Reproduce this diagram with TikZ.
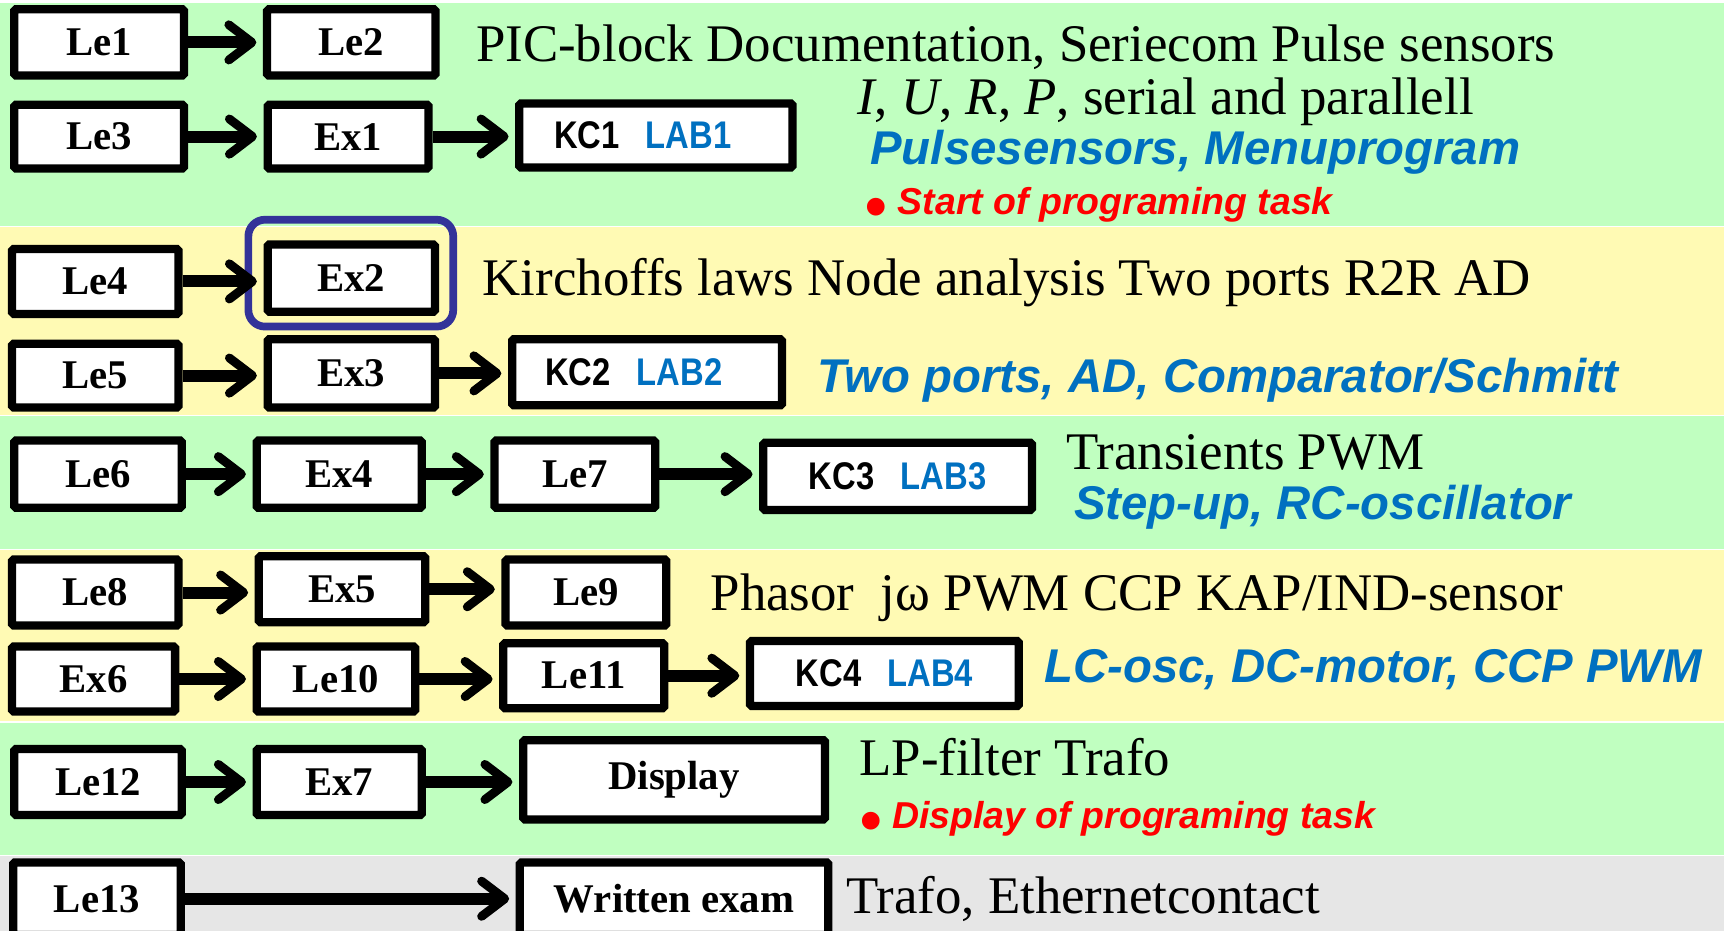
\documentclass[tikz,border=0pt]{standalone}
\usepackage{fontspec}
\usepackage{graphicx}
\setmainfont{Liberation Serif}
\setsansfont{Liberation Sans}
\usetikzlibrary{arrows.meta}
\definecolor{bandgreen}{RGB}{192,255,192}
\definecolor{bandyellow}{RGB}{255,250,180}
\definecolor{bandgray}{RGB}{230,230,230}
\definecolor{labblue}{RGB}{0,112,192}
\definecolor{ringblue}{RGB}{51,51,153}
\definecolor{taskred}{RGB}{255,0,0}
\begin{document}
\begin{tikzpicture}[x=1pt,y=-1pt,
  blk/.style={draw=black, line width=7.5pt, rounded corners=1.5pt, fill=white, inner sep=0pt,
    font=\bfseries\fontsize{37}{40}\selectfont},
  kc/.style={blk, font=\sffamily\bfseries\fontsize{35}{40}\selectfont},
  conn/.style={-{Straight Barb[length=21pt,width=32pt,round,line width=8pt]},
    shorten >=6pt, line width=11pt},
  serif/.style={anchor=base west, inner sep=0pt, font=\fontsize{48}{52}\selectfont},
  bluetxt/.style={anchor=base west, inner sep=0pt, text=labblue,
    font=\sffamily\bfseries\itshape\fontsize{43}{48}\selectfont},
  redtxt/.style={anchor=base west, inner sep=0pt, text=taskred,
    font=\sffamily\bfseries\itshape\fontsize{34}{38}\selectfont},
]
% "KCn LABn" label, condensed, with an optional shift to the left
\newcommand{\kclabel}[2]{\scalebox{0.85}[1]{KC#1\hspace{0.8em}\color{labblue}LAB#1}\kern#2pt\relax}
\newcommand{\bigdot}{{\upshape\fontsize{56}{56}\selectfont\raisebox{-12pt}{•}}}
\useasboundingbox (0,0) rectangle (1568,845);
\fill[white] (0,0) rectangle (1568,845);
% coloured bands
\fill[bandgreen]  (0,3)   rectangle (1565,205);
\fill[bandyellow] (0,206) rectangle (1565,377);
\fill[bandgreen]  (0,378) rectangle (1565,498);
\fill[bandyellow] (0,499) rectangle (1565,655);
\fill[bandgreen]  (0,656) rectangle (1565,776);
\fill[bandgray]   (0,777) rectangle (1565,845);

% band 1
\node[blk, minimum width=154pt, minimum height=60pt] (le1) at (90,38.5) {Le1};
\node[blk, minimum width=153pt, minimum height=60pt] (le2) at (319,38.5) {Le2};
\node[blk, minimum width=154pt, minimum height=58pt] (le3) at (90,124) {Le3};
\node[blk, minimum width=146pt, minimum height=58pt] (ex1) at (316,124) {Ex1};
\node[kc, minimum width=248pt, minimum height=58pt] (kc1) at (595.5,123) {\kclabel{1}{24}};
\node[serif] (t1) at (432,56) {PIC-block Documentation, Seriecom Pulse sensors};
\node[serif] (t2) at (778,104) {\textit{I}, \textit{U}, \textit{R}, \textit{P}, serial and parallell};
\node[bluetxt] (t3) at (790,149) {Pulsesensors, Menuprogram};
\node[redtxt] (t4) at (786,195) {\bigdot\ Start of programing task};

% band 2
\node[blk, minimum width=151pt, minimum height=59pt] (le4) at (86.5,255.5) {Le4};
\node[blk, minimum width=152pt, minimum height=61pt] (ex2) at (319,252.5) {Ex2};
\node[draw=ringblue, line width=7pt, rounded corners=15pt, minimum width=186pt,
  minimum height=97pt, inner sep=0pt] (ring) at (318.5,248) {};
\node[blk, minimum width=151pt, minimum height=58pt] (le5) at (86.5,341) {Le5};
\node[blk, minimum width=152pt, minimum height=62pt] (ex3) at (319,339) {Ex3};
\node[kc, minimum width=245pt, minimum height=60pt] (kc2) at (587.5,338) {\kclabel{2}{24}};
\node[serif] (t5) at (438,268) {Kirchoffs laws Node analysis Two ports R2R AD};
\node[bluetxt] (t6) at (742,356) {Two ports, AD, Comparator/Schmitt};

% band 3
\node[blk, minimum width=152pt, minimum height=61pt] (le6) at (89,430.5) {Le6};
\node[blk, minimum width=150pt, minimum height=61pt] (ex4) at (308,430.5) {Ex4};
\node[blk, minimum width=146pt, minimum height=61pt] (le7) at (522,430.5) {Le7};
\node[kc, minimum width=244pt, minimum height=61pt] (kc3) at (815,432.5) {\kclabel{3}{0}};
\node[serif] (t7) at (968,426) {Transients PWM};
\node[bluetxt] (t8) at (975,472) {Step-up, RC-oscillator};

% band 4
\node[blk, minimum width=151pt, minimum height=60pt] (le8) at (86.5,538) {Le8};
\node[blk, minimum width=151pt, minimum height=60pt] (ex5) at (310.5,535) {Ex5};
\node[blk, minimum width=146pt, minimum height=60pt] (le9) at (532,538) {Le9};
\node[blk, minimum width=148pt, minimum height=59pt] (ex6) at (85,616.5) {Ex6};
\node[blk, minimum width=144pt, minimum height=59pt] (le10) at (305,616.5) {Le10};
\node[blk, minimum width=146pt, minimum height=59pt] (le11) at (530,613.5) {Le11};
\node[kc, minimum width=244pt, minimum height=59pt] (kc4) at (803,611.5) {\kclabel{4}{0}};
\node[serif] (t9) at (645,554) {Phasor\ \ jω PWM CCP KAP/IND-sensor};
\node[bluetxt] (t10) at (948,620) {LC-osc, DC-motor, CCP PWM};

% band 5
\node[blk, minimum width=152pt, minimum height=60pt] (le12) at (89,710) {Le12};
\node[blk, minimum width=150pt, minimum height=60pt] (ex7) at (308,710) {Ex7};
\node[blk, minimum width=274pt, minimum height=72pt] (disp) at (612,708) {Display};
\node[serif] (t11) at (780,704) {LP-filter Trafo};
\node[redtxt] (t12) at (781,752) {\bigdot\ Display of programing task};

% band 6
\node[blk, minimum width=152pt, minimum height=66pt] (le13) at (88,816) {Le13};
\node[blk, minimum width=280pt, minimum height=66pt] (exam) at (612,816) {Written exam};
\node[serif] (t13) at (768,829) {Trafo, Ethernetcontact};

% connectors
\foreach \a/\b in {le1/le2, le3/ex1, ex1/kc1, le4/ex2, le5/ex3, ex3/kc2,
  le6/ex4, ex4/le7, le7/kc3, le8/ex5, ex5/le9, ex6/le10, le10/le11, le11/kc4,
  le12/ex7, ex7/disp, le13/exam}
  \draw[conn] (\a.east) -- (\a.east -| \b.west);
\end{tikzpicture}
\end{document}
